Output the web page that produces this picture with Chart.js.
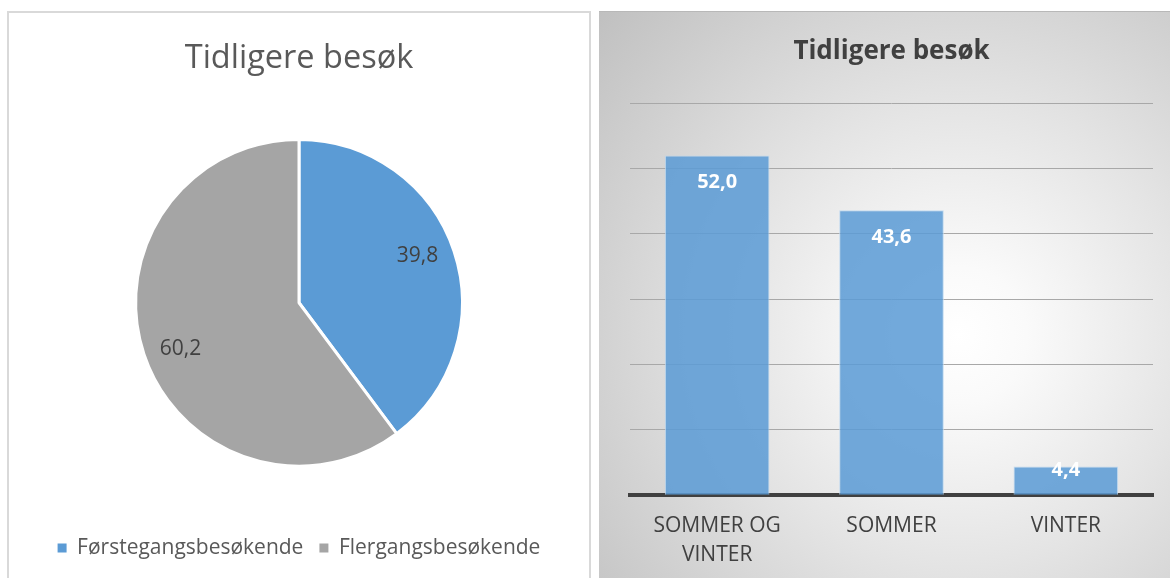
<!DOCTYPE html>
<html>
<head>
<meta charset="utf-8">
<script src="https://cdn.jsdelivr.net/npm/chart.js@4/dist/chart.umd.min.js"></script>
<style>
  html, body { margin: 0; padding: 0; background: #fff; width: 1170px; height: 578px; overflow: hidden; }
  #left { position: absolute; left: 7px; top: 11px; width: 580px; height: 580px; border: 2px solid #d9d9d9; background: #fff; }
  #right { position: absolute; left: 599px; top: 11px; width: 571px; height: 567px; overflow: hidden;
    border-top: 1px solid #b8b8b8;
    background: radial-gradient(circle farthest-corner at 63% 57%, #ffffff 0%, #fafafa 14%, #e4e4e4 48%, #c0c0c0 100%); }
  canvas { position: absolute; left: 0; top: 0; }
</style>
</head>
<body>
<div id="left"><canvas id="pie" width="580" height="567"></canvas></div>
<div id="right"><canvas id="bar" width="571" height="574"></canvas></div>
<script>
const chartTitle = "Tidligere besøk";

// kakediagram
const pieLabels = ["Førstegangsbesøkende", "Flergangsbesøkende"];
const pieValues = [39.8, 60.2];
const pieColors = ["#5B9BD5", "#A5A5A5"];

// søylediagram
const barLabels = [["SOMMER OG", "VINTER"], "SOMMER", "VINTER"];
const barValues = [52.0, 43.6, 4.4];
const yTicks = [0, 10, 20, 30, 40, 50, 60];

const fmt = (v) => v.toFixed(1).replace(".", ",");
const font = "'Open Sans', 'Noto Sans', sans-serif";

Chart.defaults.font.family = font;
Chart.defaults.devicePixelRatio = 1;

// verdier inne i kakestykkene
const pieLabelPlugin = {
    id: "pieLabels",
    afterDatasetsDraw(chart) {
        const ctx = chart.ctx;
        const meta = chart.getDatasetMeta(0);
        ctx.save();
        ctx.font = "21px " + font;
        ctx.fillStyle = "#404040";
        ctx.textAlign = "center";
        ctx.textBaseline = "middle";
        meta.data.forEach((arc, i) => {
            const p = arc.getProps(["x", "y", "startAngle", "endAngle", "outerRadius"], true);
            // Excel legger etiketten litt mot klokka fra midten av stykket
            const mid = (p.startAngle + p.endAngle) / 2 - 0.055;
            const d = p.outerRadius * 0.78;
            ctx.fillText(fmt(pieValues[i]), p.x + Math.cos(mid) * d, p.y + Math.sin(mid) * d);
        });
        ctx.restore();
    }
};

new Chart(document.getElementById("pie"), {
    type: "pie",
    data: {
        labels: pieLabels,
        datasets: [{
            data: pieValues,
            backgroundColor: pieColors,
            borderColor: "#ffffff",
            borderWidth: 3,
            radius: "75.2%"
        }]
    },
    options: {
        responsive: false,
        animation: false,
        layout: { padding: { top: 0, bottom: 11.5, left: 0, right: 0 } },
        plugins: {
            tooltip: { enabled: false },
            title: {
                display: true,
                text: chartTitle,
                color: "#595959",
                font: { size: 32.5, weight: "normal", family: font },
                padding: { top: 26, bottom: 6 }
            },
            legend: {
                position: "bottom",
                labels: {
                    color: "#595959",
                    font: { size: 21, family: font },
                    usePointStyle: true,
                    pointStyle: "rect",
                    boxWidth: 9,
                    boxHeight: 9,
                    padding: 16,
                    generateLabels: (chart) =>
                        Chart.overrides.pie.plugins.legend.labels.generateLabels(chart)
                            .map((l) => ({ ...l, lineWidth: 0 }))
                }
            }
        }
    },
    plugins: [pieLabelPlugin]
});

// verdier inne i søylene
const barLabelPlugin = {
    id: "barLabels",
    afterDatasetsDraw(chart) {
        const ctx = chart.ctx;
        const meta = chart.getDatasetMeta(0);
        ctx.save();
        ctx.font = "bold 20px " + font;
        ctx.fillStyle = "#ffffff";
        ctx.textAlign = "center";
        ctx.textBaseline = "middle";
        meta.data.forEach((bar, i) => {
            const p = bar.getProps(["x", "y", "base"], true);
            const h = p.base - p.y;
            const off = h > 54 ? 27 : h * 0.15;
            ctx.fillText(fmt(barValues[i]), p.x, p.y + off);
        });
        ctx.restore();
    }
};

new Chart(document.getElementById("bar"), {
    type: "bar",
    data: {
        labels: barLabels,
        datasets: [{
            data: barValues,
            backgroundColor: "rgba(91, 155, 213, 0.86)",
            borderColor: "rgba(190, 216, 240, 0.9)",
            borderWidth: 1,
            barPercentage: 0.6,
            categoryPercentage: 1
        }]
    },
    options: {
        responsive: false,
        animation: false,
        layout: { padding: { top: 0, bottom: 0, left: 31, right: 17 } },
        plugins: {
            tooltip: { enabled: false },
            legend: { display: false },
            title: {
                display: true,
                text: chartTitle,
                color: "#404040",
                font: { size: 26, weight: "bold", family: font },
                padding: { top: 24, bottom: 36 }
            }
        },
        scales: {
            x: {
                grid: { display: false, drawTicks: false },
                border: { display: true, color: "#404040", width: 4 },
                ticks: {
                    color: "#404040",
                    padding: 17,
                    font: { size: 21, family: font, lineHeight: 1.35 }
                }
            },
            y: {
                min: yTicks[0],
                max: yTicks[yTicks.length - 1],
                afterBuildTicks: (axis) => { axis.ticks = yTicks.map((v) => ({ value: v })); },
                ticks: { display: false },
                border: { display: false },
                grid: { color: "#a8a8a8", lineWidth: 1, drawTicks: false }
            }
        }
    },
    plugins: [barLabelPlugin]
});
</script>
</body>
</html>
